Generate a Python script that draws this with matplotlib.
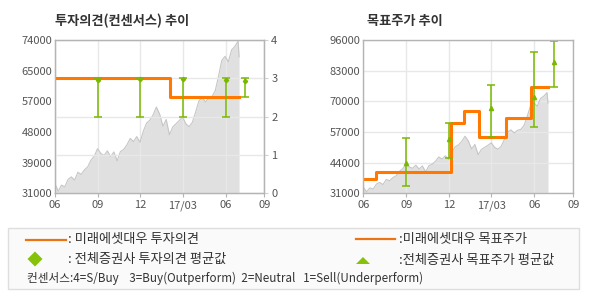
import pandas as pd
import numpy as np
import matplotlib
matplotlib.use('Agg')
import matplotlib.pyplot as plt
from matplotlib.patches import Rectangle, Polygon

plt.rcParams['font.family'] = ['Noto Sans CJK KR', 'DejaVu Sans']

# weekly close price (won)
price = [33600, 31600, 33300, 32800, 34900, 35600, 34700, 36900, 36300, 37600,
         38400, 40300, 41400, 43500, 42200, 41600, 42900, 41300, 42600, 40100,
         42700, 43300, 44600, 46400, 45500, 46900, 45300, 48400, 50700, 51500,
         53000, 55200, 53200, 49800, 51700, 47400, 49600, 50500, 51400, 52400,
         50500, 49700, 50900, 53800, 56900, 57900, 56600, 57700, 58100, 59800,
         63800, 68300, 69400, 67900, 71200, 72200, 73700, 69300]
price_dates = list(pd.date_range('2016-06-01', periods=57, freq='7D')) + [pd.Timestamp('2017-06-30')]

# 미래에셋대우 투자의견 (step)
op_dates = pd.to_datetime(['2016-06-01', '2017-02-03', '2017-06-30'])
op_values = [3, 2.5, 2.5]

# 미래에셋대우 목표주가 (step)
tp_dates = pd.to_datetime(['2016-06-01', '2016-06-29', '2016-12-05', '2017-01-01',
                           '2017-02-03', '2017-04-02', '2017-05-25', '2017-06-30'])
tp_values = [37000, 40000, 61000, 66000, 55000, 63000, 76000, 76000]

# 전체증권사 consensus
cons_dates = pd.to_datetime(['2016-09-01', '2016-12-01', '2017-03-01', '2017-06-01', '2017-07-12'])
op_mean = np.array([2.96, 2.97, 2.98, 2.95, 2.92])
op_low = np.array([2, 2, 2, 2, 2.5])
op_high = np.array([3, 3, 3, 3, 3])
tp_mean = np.array([43700, 54000, 67000, 72000, 86700])
tp_low = np.array([34100, 46100, 55000, 59000, 76000])
tp_high = np.array([54300, 61000, 76900, 91000, 95700])

x_ticks = pd.to_datetime(['2016-06-01', '2016-09-01', '2016-12-01', '2017-03-01', '2017-06-01', '2017-08-23'])
x_labels = ['06', '09', '12', '17/03', '06', '09']
left_ticks = ['31000', '39000', '48000', '57000', '65000', '74000']
right_ticks = ['0', '1', '2', '3', '4']
tp_ticks = ['31000', '44000', '57000', '70000', '83000', '96000']

W, H = 590, 300
ORANGE = '#ff7800'
GREEN = '#7ab800'
SPINE = '#b4b4b4'
GRID = '#e8e8e8'
TXT = '#555555'

fig = plt.figure(figsize=(W / 100, H / 100), dpi=100)


def box(x0, y0, x1, y1):
    return [x0 / W, 1 - y1 / H, (x1 - x0) / W, (y1 - y0) / H]


def style(ax):
    for s in ax.spines.values():
        s.set_color(SPINE)
        s.set_linewidth(1)
    ax.set_xlim(x_ticks[0], x_ticks[-1])
    ax.set_xticks(x_ticks)
    ax.set_xticklabels(x_labels)
    ax.tick_params(axis='x', length=3, color=SPINE, labelsize=8, labelcolor=TXT, pad=2)
    ax.tick_params(axis='y', length=0, labelsize=8, labelcolor=TXT, pad=2)


# ---- left: 투자의견
ax1 = fig.add_axes(box(55, 40, 264.3, 193.3))
style(ax1)
ax1.set_ylim(31000, 74000)
ax1.set_yticks(np.linspace(31000, 74000, 6))
ax1.set_yticklabels(left_ticks)
ax1.set_axisbelow('line')
ax1.grid(True, axis='x', color=GRID, lw=1)
ax1.fill_between(price_dates, price, 31000, color='#e0e0e0', lw=0)
ax1.plot(price_dates, price, color='#c6c6c6', lw=0.8)

ax1b = ax1.twinx()
for s in ax1b.spines.values():
    s.set_color(SPINE)
ax1b.set_ylim(0, 4)
ax1b.set_yticks(range(5))
ax1b.set_yticklabels(right_ticks)
ax1b.tick_params(axis='y', length=3, color='#d0d0d0', labelsize=8, labelcolor=TXT, pad=2)
ax1b.grid(True, axis='y', color=GRID, lw=1)
ax1b.plot(op_dates, op_values, drawstyle='steps-post', color=ORANGE, lw=2.2)
ax1b.errorbar(cons_dates, op_mean, yerr=[op_mean - op_low, op_high - op_mean],
              fmt='D', ms=2.2, color=GREEN, elinewidth=1.1, capsize=3, capthick=1.1)

# ---- right: 목표주가
ax3 = fig.add_axes(box(363.3, 40, 573.3, 193.3))
style(ax3)
ax3.set_ylim(31000, 96000)
ax3.set_yticks(np.linspace(31000, 96000, 6))
ax3.set_yticklabels(tp_ticks)
ax3.set_axisbelow('line')
ax3.grid(True, color=GRID, lw=1)
ax3.fill_between(price_dates, price, 31000, color='#e0e0e0', lw=0)
ax3.plot(price_dates, price, color='#c6c6c6', lw=0.8)
ax3.plot(tp_dates, tp_values, drawstyle='steps-post', color=ORANGE, lw=2.2)
ax3.errorbar(cons_dates, tp_mean, yerr=[tp_mean - tp_low, tp_high - tp_mean],
             fmt='^', ms=3, color=GREEN, elinewidth=1.1, capsize=3, capthick=1.1)

fig.text(55 / W, 1 - 21 / H, '투자의견(컨센서스) 추이', fontsize=9.5, fontweight='bold',
         color='#333333', va='center', ha='left')
fig.text(367 / W, 1 - 21 / H, '목표주가 추이', fontsize=9.5, fontweight='bold',
         color='#333333', va='center', ha='left')

# ---- legend box
lg = fig.add_axes([0, 0, 1, 1], zorder=-1)
lg.set_xlim(0, W)
lg.set_ylim(H, 0)
lg.axis('off')
lg.add_patch(Rectangle((8, 228), 571, 61, fc='#fafafa', ec='#dedede', lw=1))
lg.plot([26, 66], [240, 240], color='#eb7314', lw=1.6)
lg.plot([356, 395], [239, 239], color='#eb7314', lw=1.6)
lg.add_patch(Polygon([(35, 251.5), (42.5, 259), (35, 266.5), (27.5, 259)], closed=True,
                     fc='#86c20a', ec='none'))
lg.add_patch(Polygon([(356, 264), (370, 264), (363, 257)], closed=True, fc='#86c20a', ec='none'))
kw = dict(fontsize=9.5, color='#333333', va='center', ha='left')
lg.text(68, 240, ': 미래에셋대우 투자의견', **kw)
lg.text(399, 240, ':미래에셋대우 목표주가', **kw)
lg.text(68, 259, ': 전체증권사 투자의견 평균값', **kw)
lg.text(399, 260, ':전체증권사 목표주가 평균값', **kw)
lg.text(27, 278, '컨센서스:4=S/Buy    3=Buy(Outperform)  2=Neutral   1=Sell(Underperform)',
        fontsize=8.4, color='#333333', va='center', ha='left')

fig.savefig('out.png', dpi=100)
